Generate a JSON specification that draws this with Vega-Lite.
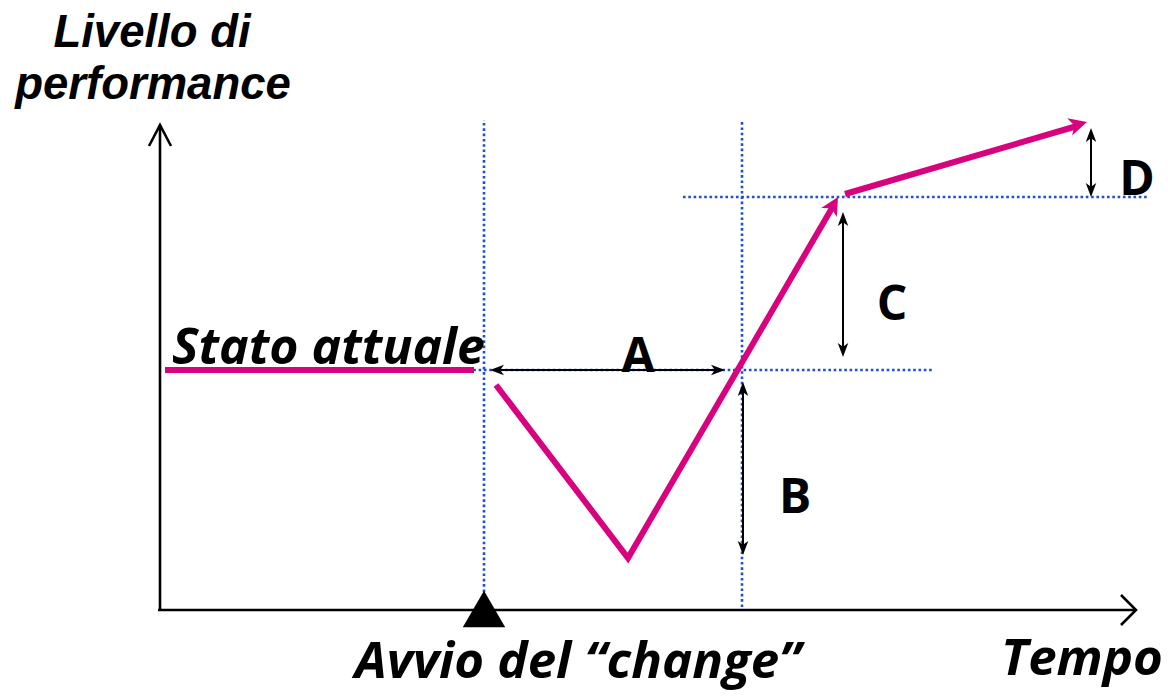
{
  "$schema": "https://vega.github.io/schema/vega-lite/v6.json",
  "width": 1168,
  "height": 699,
  "padding": 0,
  "autosize": {"type": "fit", "contains": "padding"},
  "background": "white",
  "config": {"view": {"stroke": null}},
  "datasets": {
    "dotted": [
      {"g": "v1", "o": 0, "x": 484, "y": 107},
      {"g": "v1", "o": 1, "x": 484, "y": 579},
      {"g": "v2", "o": 0, "x": 742, "y": 92},
      {"g": "v2", "o": 1, "x": 742, "y": 579},
      {"g": "h1", "o": 0, "x": 468, "y": 329},
      {"g": "h1", "o": 1, "x": 932, "y": 329},
      {"g": "h2", "o": 0, "x": 683, "y": 502},
      {"g": "h2", "o": 1, "x": 1147, "y": 502}
    ],
    "axes": [
      {"g": "yaxis", "o": 0, "x": 160, "y": 89},
      {"g": "yaxis", "o": 1, "x": 160, "y": 574},
      {"g": "ychev", "o": 0, "x": 149, "y": 553},
      {"g": "ychev", "o": 1, "x": 160, "y": 574},
      {"g": "ychev", "o": 2, "x": 171, "y": 553},
      {"g": "xaxis", "o": 0, "x": 158, "y": 89},
      {"g": "xaxis", "o": 1, "x": 1136, "y": 89},
      {"g": "xchev", "o": 0, "x": 1121, "y": 104},
      {"g": "xchev", "o": 1, "x": 1136, "y": 89},
      {"g": "xchev", "o": 2, "x": 1121, "y": 74}
    ],
    "shafts": [
      {"g": "A", "o": 0, "x": 494, "y": 329},
      {"g": "A", "o": 1, "x": 721, "y": 329},
      {"g": "B", "o": 0, "x": 743, "y": 313},
      {"g": "B", "o": 1, "x": 743, "y": 148},
      {"g": "C", "o": 0, "x": 843, "y": 483},
      {"g": "C", "o": 1, "x": 843, "y": 346},
      {"g": "D", "o": 0, "x": 1091, "y": 567},
      {"g": "D", "o": 1, "x": 1091, "y": 506}
    ],
    "heads": [
      {"g": "A", "x": 490, "y": 329, "dir": 270},
      {"g": "A", "x": 725, "y": 329, "dir": 90},
      {"g": "B", "x": 743, "y": 317, "dir": 0},
      {"g": "B", "x": 743, "y": 144, "dir": 180},
      {"g": "C", "x": 843, "y": 487, "dir": 0},
      {"g": "C", "x": 843, "y": 342, "dir": 180},
      {"g": "D", "x": 1091, "y": 571, "dir": 0},
      {"g": "D", "x": 1091, "y": 502, "dir": 180}
    ],
    "perf": [
      {"g": "attuale", "o": 0, "x": 165, "y": 329},
      {"g": "attuale", "o": 1, "x": 474, "y": 329},
      {"g": "change", "o": 0, "x": 496, "y": 314},
      {"g": "change", "o": 1, "x": 628, "y": 141},
      {"g": "change", "o": 2, "x": 832, "y": 491},
      {"g": "dopo", "o": 0, "x": 845, "y": 505},
      {"g": "dopo", "o": 1, "x": 1077, "y": 573}
    ],
    "perfHeads": [
      {"g": "change", "x": 838, "y": 502, "dir": 30},
      {"g": "dopo", "x": 1087, "y": 577, "dir": 74}
    ],
    "start": [
      {"label": "Avvio", "x": 484, "y": 90}
    ],
    "titles": [
      {"t": "Livello di", "x": 152, "y": 652},
      {"t": "performance", "x": 153, "y": 600}
    ],
    "notes": [
      {"t": "Avvio del “change”", "x": 578, "y": 21},
      {"t": "Tempo", "x": 1082, "y": 24}
    ],
    "stato": [
      {"t": "Stato attuale", "x": 172, "y": 335}
    ],
    "letters": [
      {"t": "A", "x": 638, "y": 327},
      {"t": "B", "x": 795, "y": 186},
      {"t": "C", "x": 892, "y": 379},
      {"t": "D", "x": 1137, "y": 504}
    ]
  },
  "encoding": {
    "x": {"field": "x", "type": "quantitative", "scale": {"domain": [0, 1168], "nice": false, "zero": false}, "axis": null},
    "y": {"field": "y", "type": "quantitative", "scale": {"domain": [0, 699], "nice": false, "zero": false}, "axis": null}
  },
  "layer": [
    {
      "data": {"name": "dotted"},
      "mark": {"type": "line", "color": "#1f4fd8", "strokeWidth": 2.6, "strokeDash": [2.6, 2.7], "strokeCap": "butt"},
      "encoding": {"detail": {"field": "g"}, "order": {"field": "o"}}
    },
    {
      "data": {"name": "axes"},
      "mark": {"type": "line", "color": "black", "strokeWidth": 2.6, "strokeJoin": "miter"},
      "encoding": {"detail": {"field": "g"}, "order": {"field": "o"}}
    },
    {
      "data": {"name": "shafts"},
      "mark": {"type": "line", "color": "black", "strokeWidth": 2},
      "encoding": {"detail": {"field": "g"}, "order": {"field": "o"}}
    },
    {
      "data": {"name": "heads"},
      "mark": {"type": "point", "shape": "M0,0L0.75,2L0,1.45L-0.75,2Z", "filled": true, "color": "black", "opacity": 1, "size": 196},
      "encoding": {"angle": {"field": "dir", "type": "quantitative", "scale": null}}
    },
    {
      "data": {"name": "perf"},
      "mark": {"type": "line", "color": "#d8017e", "strokeWidth": 6, "strokeJoin": "miter", "strokeCap": "butt"},
      "encoding": {"detail": {"field": "g"}, "order": {"field": "o"}}
    },
    {
      "data": {"name": "perfHeads"},
      "mark": {"type": "point", "shape": "M0,0L1,2L0,1.45L-1,2Z", "filled": true, "color": "#d8017e", "opacity": 1, "size": 324},
      "encoding": {"angle": {"field": "dir", "type": "quantitative", "scale": null}}
    },
    {
      "data": {"name": "start"},
      "mark": {"type": "point", "shape": "triangle-up", "filled": true, "color": "black", "opacity": 1, "size": 1800}
    },
    {
      "data": {"name": "titles"},
      "mark": {"type": "text", "font": "Liberation Sans", "fontWeight": "bold", "fontStyle": "italic", "fontSize": 45.5, "align": "center", "baseline": "alphabetic", "color": "black"},
      "encoding": {"text": {"field": "t"}}
    },
    {
      "data": {"name": "notes"},
      "mark": {"type": "text", "font": "Open Sans", "fontWeight": "bold", "fontStyle": "italic", "fontSize": 51, "align": "center", "baseline": "alphabetic", "color": "black"},
      "encoding": {"text": {"field": "t"}}
    },
    {
      "data": {"name": "stato"},
      "mark": {"type": "text", "font": "Open Sans", "fontWeight": "bold", "fontStyle": "italic", "fontSize": 50, "align": "left", "baseline": "alphabetic", "color": "black"},
      "encoding": {"text": {"field": "t"}}
    },
    {
      "data": {"name": "letters"},
      "mark": {"type": "text", "font": "Open Sans", "fontWeight": "bold", "fontSize": 48, "align": "center", "baseline": "alphabetic", "color": "black"},
      "encoding": {"text": {"field": "t"}}
    }
  ]
}
